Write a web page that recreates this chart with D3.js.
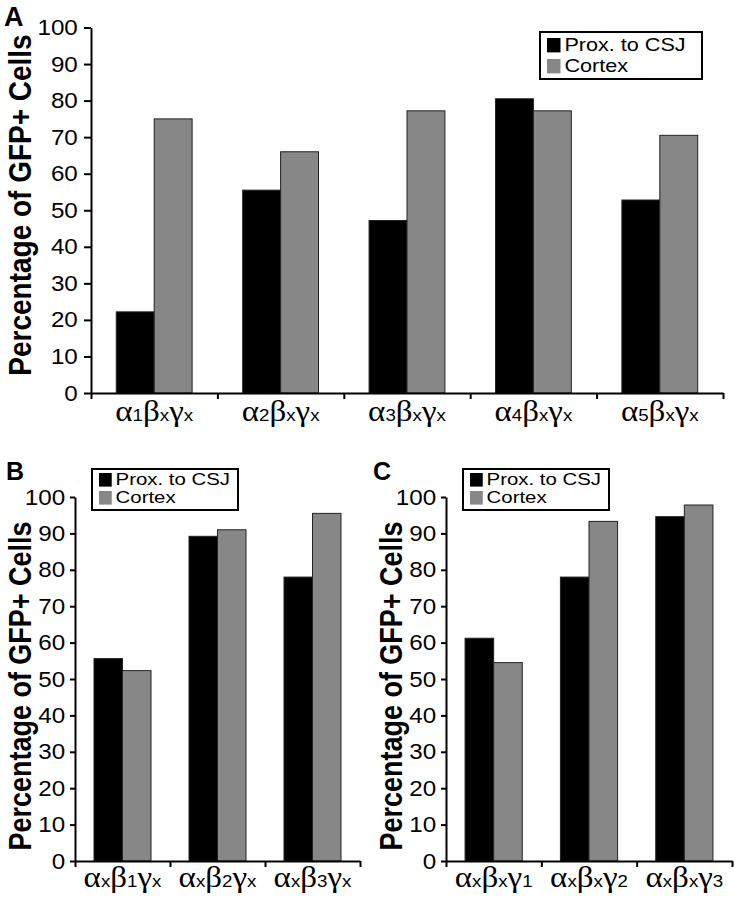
<!DOCTYPE html>
<html>
<head>
<meta charset="utf-8">
<script src="https://cdn.jsdelivr.net/npm/d3@7"></script>
<style>
  body { margin: 0; background: #fff; }
  svg { display: block; font-family: "Liberation Sans", Arial, sans-serif; }
</style>
</head>
<body>
<div id="chart"></div>
<script>
// data
const seriesNames = ["Prox. to CSJ", "Cortex"];
const seriesColors = ["#000000", "#878787"];

const catsA = [["α", "1", "β", "x", "γ", "x"], ["α", "2", "β", "x", "γ", "x"], ["α", "3", "β", "x", "γ", "x"], ["α", "4", "β", "x", "γ", "x"], ["α", "5", "β", "x", "γ", "x"]];
const proxA = [22.2, 55.5, 47.2, 80.5, 52.8];
const cortexA = [75, 66, 77.2, 77.2, 70.5];

const catsB = [["α", "x", "β", "1", "γ", "x"], ["α", "x", "β", "2", "γ", "x"], ["α", "x", "β", "3", "γ", "x"]];
const proxB = [55.6, 89.2, 78];
const cortexB = [52.3, 91, 95.5];

const catsC = [["α", "x", "β", "x", "γ", "1"], ["α", "x", "β", "x", "γ", "2"], ["α", "x", "β", "x", "γ", "3"]];
const proxC = [61.2, 78, 94.6];
const cortexC = [54.5, 93.3, 97.8];

const yTicks = d3.range(0, 101, 10);

const width = 735, height = 899;
const SX = 1.1; // the figure is stretched sideways

const svg = d3.select("#chart").append("svg")
  .attr("width", width)
  .attr("height", height);

function drawPanel(p) {
  const g = svg.append("g");
  const n = p.cats.length;

  const y = d3.scaleLinear().domain([0, 100]).range([p.y0, p.y1]);
  const xEdge = d3.scaleLinear().domain([0, n]).range([p.x0, p.x1]);
  const x = d3.scaleBand().domain(d3.range(n)).range([p.x0, p.x1]).paddingInner(0.4).paddingOuter(0.2);
  const xs = d3.scaleBand().domain([0, 1]).range([0, x.bandwidth()]);

  // bars
  const rows = p.prox.map((v, i) => [v, p.cortex[i]]);
  g.selectAll("g.cat")
    .data(rows)
    .enter().append("g")
    .attr("transform", (d, i) => "translate(" + x(i) + ",0)")
    .selectAll("rect")
    .data(d => d)
    .enter().append("rect")
    .attr("x", (d, j) => xs(j))
    .attr("y", d => y(d))
    .attr("width", xs.bandwidth())
    .attr("height", d => y(0) - y(d))
    .attr("fill", (d, j) => seriesColors[j])
    .attr("stroke", "#222")
    .attr("stroke-width", 1);

  // y axis
  const ya = g.append("g")
    .attr("transform", "translate(" + p.x0 + ",0)")
    .call(d3.axisLeft(y).tickValues(yTicks).tickSize(p.tick).tickPadding(p.pad).tickSizeOuter(0));
  ya.selectAll("text")
    .attr("font-size", p.tickFont)
    .attr("fill", "#000")
    .attr("transform", "scale(" + SX + ",1)");
  ya.select(".domain").attr("stroke-width", 2);
  ya.selectAll(".tick line").attr("stroke-width", 2);

  // x axis, ticks on the category edges
  const xa = g.append("g")
    .attr("transform", "translate(0," + p.y0 + ")")
    .call(d3.axisBottom(xEdge).ticks(n).tickFormat("").tickSize(6).tickSizeOuter(0));
  xa.select(".domain").attr("stroke-width", 2);
  xa.selectAll(".tick line").attr("stroke-width", 2);

  // category labels
  const lab = g.selectAll("text.cat")
    .data(p.cats)
    .enter().append("text")
    .attr("class", "cat")
    .attr("text-anchor", "middle")
    .attr("transform", (d, i) => "translate(" + (x(i) + x.bandwidth() / 2) + "," + p.labelY + ") scale(" + SX + ",1)");
  lab.each(function(d) {
    const t = d3.select(this);
    d.forEach((s, k) => {
      t.append("tspan")
        .attr("font-family", k % 2 == 0 ? "'Liberation Serif', 'DejaVu Serif', serif" : "'Liberation Sans', Arial, sans-serif")
        .attr("font-size", k % 2 == 0 ? 30 : 17)
        .text(s);
    });
  });

  // y title
  g.append("text")
    .attr("transform", "translate(" + p.titleX + "," + p.titleY + ") scale(1.15,1) rotate(-90)")
    .attr("text-anchor", "middle")
    .attr("font-weight", "bold")
    .attr("font-size", p.titleFont)
    .text("Percentage of GFP+ Cells");

  // panel letter
  g.append("text")
    .attr("x", p.letterX)
    .attr("y", p.letterY)
    .attr("font-weight", "bold")
    .attr("font-size", p.letterFont)
    .text(p.letter);

  // legend
  const lg = g.append("g").attr("transform", "translate(" + p.legX + "," + p.legY + ")");
  lg.append("rect")
    .attr("width", p.legW).attr("height", p.legH)
    .attr("fill", "#fff").attr("stroke", "#000").attr("stroke-width", 2);
  seriesNames.forEach((s, k) => {
    lg.append("rect")
      .attr("x", 7).attr("y", p.legPad + k * p.legRow)
      .attr("width", p.legFont * 0.75).attr("height", p.legFont * 0.8)
      .attr("fill", seriesColors[k]);
    lg.append("text")
      .attr("transform", "translate(" + (10 + p.legFont * 0.8) + "," + (p.legPad + p.legFont * 0.72 + k * p.legRow) + ") scale(1.2,1)")
      .attr("font-size", p.legFont)
      .text(s);
  });
}

drawPanel({
  cats: catsA, prox: proxA, cortex: cortexA,
  x0: 91, x1: 723, y0: 393, y1: 27.5,
  tick: 7, pad: 5, tickFont: 22, labelY: 421,
  titleX: 31, titleY: 205, titleFont: 28,
  letter: "A", letterX: 4, letterY: 26, letterFont: 27,
  legX: 540, legY: 32, legW: 162, legH: 47, legPad: 6, legRow: 21, legFont: 18
});

drawPanel({
  cats: catsB, prox: proxB, cortex: cortexB,
  x0: 75, x1: 360, y0: 861, y1: 497,
  tick: 5, pad: 4, tickFont: 22, labelY: 887,
  titleX: 31, titleY: 686, titleFont: 27,
  letter: "B", letterX: 6, letterY: 480, letterFont: 25,
  legX: 92, legY: 469, legW: 146, legH: 41, legPad: 4, legRow: 18, legFont: 17
});

drawPanel({
  cats: catsC, prox: proxC, cortex: cortexC,
  x0: 446, x1: 732, y0: 861, y1: 497,
  tick: 5, pad: 4, tickFont: 22, labelY: 887,
  titleX: 402, titleY: 686, titleFont: 27,
  letter: "C", letterX: 373, letterY: 480, letterFont: 25,
  legX: 463, legY: 469, legW: 146, legH: 41, legPad: 4, legRow: 18, legFont: 17
});
</script>
</body>
</html>
